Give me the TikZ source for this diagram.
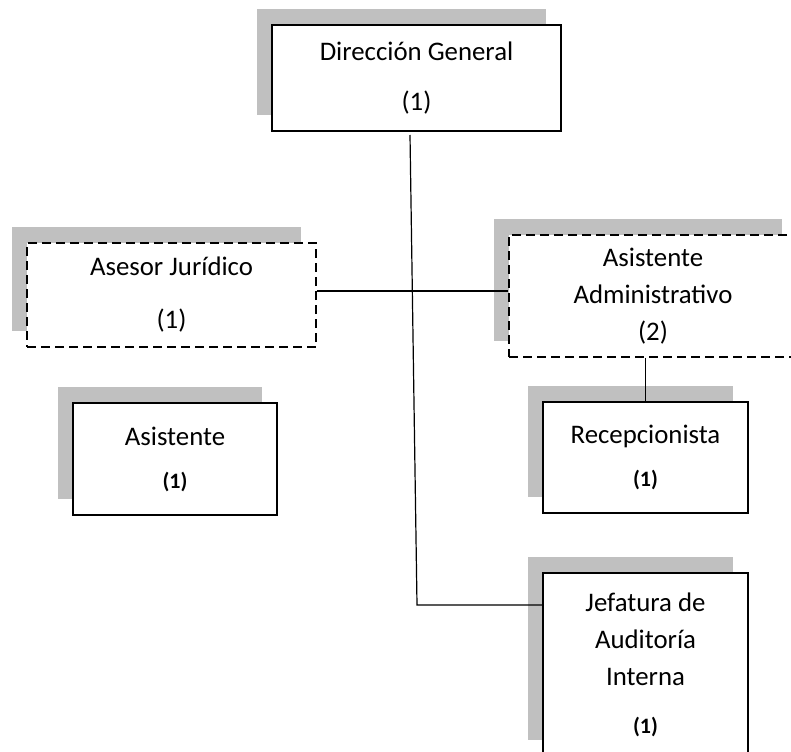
\documentclass[tikz,border=0pt]{standalone}
\usepackage{fontspec}
\setmainfont{Carlito}
\usetikzlibrary{shadows}
\definecolor{shadowgray}{RGB}{192,192,192}
% head count written under each post
\newcommand\plazas[1]{{\fontsize{22}{24}\selectfont\bfseries #1}}
\begin{document}
\begin{tikzpicture}[x=1pt,y=-1pt,
  unit/.style={draw=black, line width=1.5pt, fill=white, align=center,
    inner sep=0pt, font=\fontsize{26.8}{37}\selectfont,
    general shadow={fill=shadowgray, shadow xshift=-15pt, shadow yshift=16pt}},
  staff/.style={unit, line width=1.7pt, dash pattern=on 9pt off 5pt},
  link/.style={line width=1.2pt}]
\useasboundingbox (0,0) rectangle (791,751);
\clip (0,0) rectangle (791,751);

% line posts
\node[unit, minimum width=289pt, minimum height=106pt] (dg) at (416.5,78)
  {Dirección General\\[13pt](1)};
\node[unit, minimum width=204pt, minimum height=112pt] (as) at (175,459)
  {Asistente\\[6pt]\plazas{(1)}};
\node[unit, minimum width=205pt, minimum height=111pt] (rc) at (645.5,457.5)
  {Recepcionista\\[6pt]\plazas{(1)}};
\node[unit, minimum width=205pt, minimum height=183pt] (jf) at (645.5,664.5)
  {Jefatura de\\Auditoría\\Interna\\[11pt]\plazas{(1)}};

% staff posts
\node[staff, minimum width=289pt, minimum height=104pt] (aj) at (171.5,295)
  {Asesor Jurídico\\[16pt](1)};
\node[staff, minimum width=288pt, minimum height=122pt] (aa) at (653,296)
  {Asistente\\Administrativo\\(2)};

% connectors
\coordinate (trunk top) at (410,135);
\coordinate (trunk foot) at (417,605);
\coordinate (staff level) at (0,291);
\draw[link] (aj.east |- staff level) -- (aa.west |- staff level);
\draw[link] (trunk top) -- (trunk foot) -- (jf.west |- trunk foot);
\draw[link] (aa.south -| rc.north) -- (rc.north);
\end{tikzpicture}
\end{document}
